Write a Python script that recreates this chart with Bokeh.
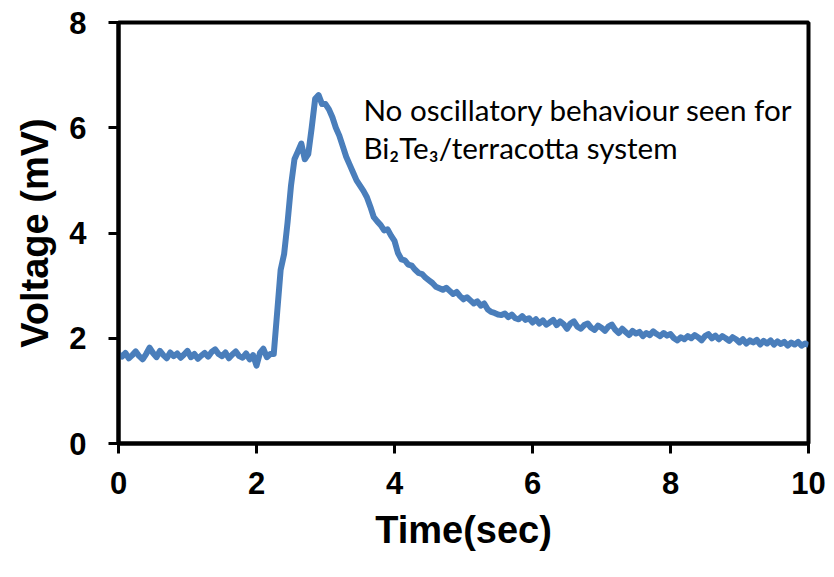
from bokeh.plotting import figure
from bokeh.models import FixedTicker, Label
from bokeh.embed import file_html
from bokeh.resources import INLINE

# Sample rate 20 Hz -> 201 samples from 0 to 10 s
voltage = [
    1.70, 1.65, 1.72, 1.62, 1.68, 1.75, 1.66, 1.60, 1.70, 1.82,   # 0.00-0.45
    1.72, 1.64, 1.76, 1.68, 1.62, 1.73, 1.66, 1.71, 1.63, 1.69,   # 0.50-0.95
    1.76, 1.64, 1.70, 1.61, 1.67, 1.72, 1.65, 1.74, 1.79, 1.70,   # 1.00-1.45
    1.66, 1.73, 1.62, 1.69, 1.75, 1.66, 1.63, 1.71, 1.60, 1.68,   # 1.50-1.95
    1.48, 1.72, 1.80, 1.64, 1.70, 1.70, 2.50, 3.30, 3.60, 4.20,   # 2.00-2.45
    4.90, 5.40, 5.55, 5.70, 5.40, 5.50, 6.00, 6.55, 6.62, 6.45,   # 2.50-2.95
    6.45, 6.35, 6.20, 6.00, 5.85, 5.65, 5.45, 5.30, 5.15, 5.00,   # 3.00-3.45
    4.90, 4.80, 4.68, 4.50, 4.30, 4.22, 4.15, 4.05, 4.07, 3.95,   # 3.50-3.95
    3.85, 3.62, 3.50, 3.48, 3.40, 3.38, 3.30, 3.24, 3.22, 3.15,   # 4.00-4.45
    3.10, 3.05, 2.98, 2.95, 2.92, 2.96, 2.90, 2.84, 2.88, 2.80,   # 4.50-4.95
    2.74, 2.78, 2.72, 2.66, 2.70, 2.62, 2.66, 2.55, 2.50, 2.48,   # 5.00-5.45
    2.45, 2.44, 2.47, 2.40, 2.45, 2.38, 2.36, 2.42, 2.35, 2.38,   # 5.50-5.95
    2.30, 2.36, 2.28, 2.34, 2.26, 2.30, 2.35, 2.25, 2.32, 2.27,   # 6.00-6.45
    2.18, 2.28, 2.32, 2.22, 2.18, 2.25, 2.28, 2.20, 2.16, 2.24,   # 6.50-6.95
    2.20, 2.14, 2.22, 2.26, 2.16, 2.10, 2.18, 2.12, 2.06, 2.14,   # 7.00-7.45
    2.09, 2.12, 2.04, 2.10, 2.06, 2.13, 2.08, 2.04, 2.10, 2.05,   # 7.50-7.95
    2.08, 2.00, 1.96, 2.02, 1.98, 2.04, 2.00, 2.06, 2.02, 1.96,   # 8.00-8.45
    2.04, 2.08, 2.00, 2.05, 1.98, 2.04, 2.00, 1.95, 2.02, 1.98,   # 8.50-8.95
    1.92, 1.98, 1.90, 1.96, 1.92, 1.97, 1.88, 1.95, 1.90, 1.96,   # 9.00-9.45
    1.88, 1.94, 1.89, 1.93, 1.86, 1.92, 1.88, 1.93, 1.86, 1.90,   # 9.50-9.95
    1.87,                                                         # 10.00
]
sample_interval = 0.05
time = [round(i * sample_interval, 2) for i in range(len(voltage))]

x_ticks = [0, 2, 4, 6, 8, 10]
y_ticks = [0, 2, 4, 6, 8]
x_label = "Time(sec)"
y_label = "Voltage (mV)"
note_line1 = "No oscillatory behaviour seen for"
note_line2 = "Bi\u2082Te\u2083/terracotta system"

p = figure(width=834, height=577, x_range=(0, 10), y_range=(0, 8),
           output_backend="svg", toolbar_location=None,
           min_border_left=118, min_border_right=26,
           min_border_top=22, min_border_bottom=134)
p.background_fill_color = "white"
p.border_fill_color = "white"
p.outline_line_color = "black"
p.outline_line_width = 4
p.xgrid.visible = False
p.ygrid.visible = False

p.line(time, voltage, line_color="#4A7EBB", line_width=6, line_join="round")

for ax, ticks in ((p.xaxis[0], x_ticks), (p.yaxis[0], y_ticks)):
    ax.ticker = FixedTicker(ticks=ticks)
    ax.axis_line_width = 4
    ax.axis_line_color = "black"
    ax.major_tick_line_width = 3
    ax.major_tick_line_color = "black"
    ax.major_tick_out = 10
    ax.major_tick_in = 0
    ax.minor_tick_line_color = None
    ax.major_label_text_font = "Liberation Sans"
    ax.major_label_text_font_style = "bold"
    ax.major_label_text_font_size = "31px"
    ax.major_label_text_color = "black"
    ax.axis_label_text_font = "Liberation Sans"
    ax.axis_label_text_font_style = "bold"
    ax.axis_label_text_font_size = "38px"
    ax.axis_label_text_color = "black"

p.xaxis.axis_label = x_label
p.yaxis.axis_label = y_label
p.xaxis.major_label_standoff = 18
p.xaxis.axis_label_standoff = 12
p.yaxis.major_label_standoff = 22
p.yaxis.axis_label_standoff = 10

for txt, yy in ((note_line1, 6.34), (note_line2, 5.62)):
    p.add_layout(Label(x=3.55, y=yy, text=txt, text_font="Lato",
                       text_font_size="29.6px", text_color="black",
                       text_baseline="alphabetic", text_align="left"))

open("out.html", "w").write(file_html(p, INLINE))
